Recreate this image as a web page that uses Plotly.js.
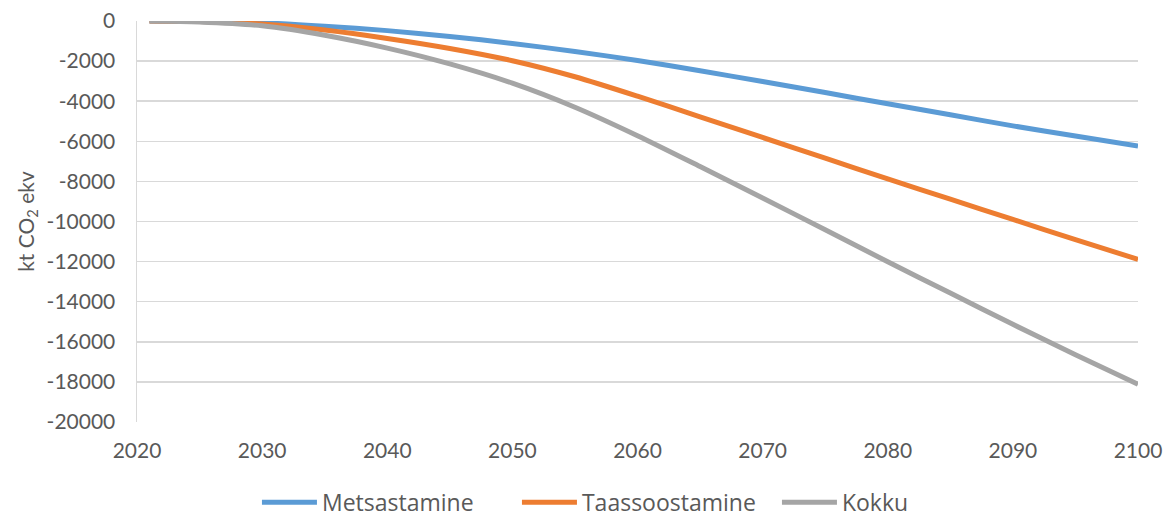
<!DOCTYPE html>
<html>
<head>
<meta charset="utf-8">
<script src="https://cdn.plot.ly/plotly-3.0.1.min.js"></script>
<style>html,body{margin:0;padding:0;background:#fff;}#chart{width:1164px;height:517px;}</style>
</head>
<body>
<div id="chart"></div>
<script>
const years = [2021, 2025, 2030, 2035, 2040, 2045, 2050, 2055, 2060, 2065, 2070, 2075, 2080, 2085, 2090, 2095, 2100];
const metsastamine = [0, -20, -90, -260, -480, -770, -1120, -1520, -1970, -2480, -3020, -3570, -4130, -4680, -5230, -5740, -6230];
const taassoostamine = [0, -30, -150, -450, -870, -1370, -1980, -2780, -3750, -4780, -5810, -6840, -7880, -8890, -9900, -10900, -11890];
const kokku = [0, -50, -240, -710, -1350, -2140, -3100, -4300, -5720, -7260, -8830, -10410, -12010, -13570, -15130, -16640, -18120];
const seriesNames = ['Metsastamine', 'Taassoostamine', 'Kokku'];
const xTicks = [2020, 2030, 2040, 2050, 2060, 2070, 2080, 2090, 2100];
const yTicks = [0, -2000, -4000, -6000, -8000, -10000, -12000, -14000, -16000, -18000, -20000];

const colors = ['#5B9BD5', '#ED7D31', '#A5A5A5'];
const data = [metsastamine, taassoostamine, kokku].map((v, i) => ({
  x: years, y: v, name: seriesNames[i], type: 'scatter', mode: 'lines',
  line: {color: colors[i], width: 5, shape: 'spline', smoothing: 0.8},
  cliponaxis: false, hoverinfo: 'skip'
}));

const font = {family: 'Lato, "Liberation Sans", sans-serif', size: 21, color: '#595959'};
const legendFont = {family: '"Open Sans", Lato, sans-serif', size: 23, color: '#595959'};
const layout = {
  width: 1164, height: 517,
  margin: {l: 137, r: 26, t: 21, b: 95, autoexpand: false},
  paper_bgcolor: '#fff', plot_bgcolor: '#fff',
  font: font,
  showlegend: true,
  legend: {orientation: 'h', xref: 'container', x: 0.5558, xanchor: 'center', y: -0.2, yanchor: 'middle', font: legendFont, itemwidth: 55, entrywidth: 190, entrywidthmode: 'pixels', borderwidth: 0},
  xaxis: {
    range: [2020, 2100], tickvals: xTicks, ticktext: xTicks.map(String),
    showgrid: false, zeroline: false, showline: false, ticks: '',
    ticklabelstandoff: 14, tickfont: font
  },
  yaxis: {
    range: [-20000, 0], tickvals: yTicks, ticktext: yTicks.map(String),
    showgrid: true, gridcolor: '#D9D9D9', gridwidth: 1.5, zeroline: false,
    showline: true, linecolor: '#D9D9D9', linewidth: 1.5, ticks: '',
    ticklabelstandoff: 16, tickfont: font,
    title: {text: 'kt CO<sub>2</sub> ekv', font: font, standoff: 6}
  }
};
Plotly.newPlot('chart', data, layout, {displayModeBar: false, staticPlot: true});
</script>
</body>
</html>
